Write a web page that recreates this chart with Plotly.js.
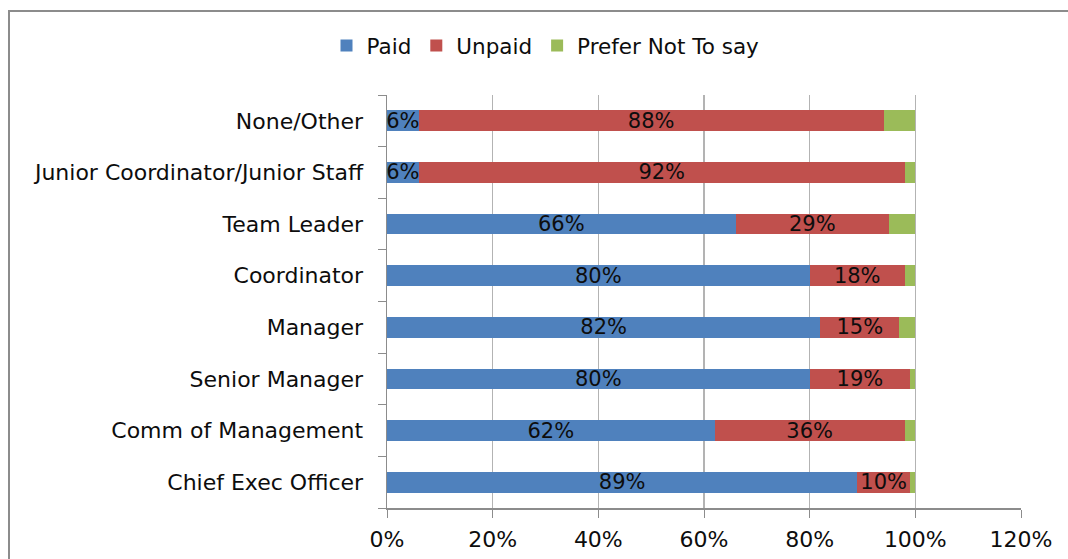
<!DOCTYPE html>
<html>
<head>
<meta charset="utf-8">
<script src="https://cdn.plot.ly/plotly-3.0.1.min.js"></script>
<style>
html,body{margin:0;padding:0;background:#fff;}
#wrap{position:relative;width:1068px;height:559px;overflow:hidden;}
#chart{width:1068px;height:559px;}
#frame{position:absolute;left:8px;top:10px;width:1100px;height:600px;border-left:2px solid #8c8c8c;border-top:2px solid #8c8c8c;pointer-events:none;}
</style>
</head>
<body>
<div id="wrap"><div id="chart"></div><div id="frame"></div></div>
<script>
const categories = ["Chief Exec Officer","Comm of Management","Senior Manager","Manager","Coordinator","Team Leader","Junior Coordinator/Junior Staff","None/Other"];
const paid = [89, 62, 80, 82, 80, 66, 6, 6];
const unpaid = [10, 36, 19, 15, 18, 29, 92, 88];
const preferNot = [1, 2, 1, 3, 2, 5, 2, 6];
const seriesNames = ["Paid", "Unpaid", "Prefer Not To say"];
const colors = ["#4F81BD", "#C0504D", "#9BBB59"];
const xTicks = [0, 20, 40, 60, 80, 100, 120];

const FONT = "'DejaVu Sans', sans-serif";
const TXT = "#0d0d0d";
const labelFont = {family: FONT, size: 21, color: TXT};

function barTrace(vals, name, color, showText) {
  return {
    type: "bar", orientation: "h", name: name,
    y: categories, x: vals,
    marker: {color: color},
    text: showText ? vals.map(v => v + "%") : undefined,
    textposition: showText ? "inside" : "none",
    insidetextanchor: "middle",
    constraintext: "none",
    textangle: 0,
    insidetextfont: labelFont,
    hoverinfo: "x+name"
  };
}

const data = [
  barTrace(paid, seriesNames[0], colors[0], true),
  barTrace(unpaid, seriesNames[1], colors[1], true),
  barTrace(preferNot, seriesNames[2], colors[2], false)
];

const layout = {
  width: 1068, height: 559,
  margin: {l: 387, r: 47, t: 95, b: 51, pad: 0},
  paper_bgcolor: "#fff", plot_bgcolor: "#fff",
  barmode: "stack",
  bargap: 0.6,
  showlegend: true,
  legend: {orientation: "h", x: 0.25, xanchor: "center", y: 1.12, yanchor: "middle",
           font: {family: FONT, size: 21.5, color: TXT}, traceorder: "normal",
           itemwidth: 30},
  font: {family: FONT, color: TXT},
  xaxis: {
    range: [0, 120], tickvals: xTicks, ticktext: xTicks.map(v => v + "%"),
    showgrid: true, gridcolor: "#b3b3b3", gridwidth: 1.5,
    zeroline: false, showline: true, linecolor: "#8c8c8c", linewidth: 1.5,
    ticks: "outside", ticklen: 8, tickcolor: "#8c8c8c",
    ticklabelstandoff: 3,
    tickfont: {family: FONT, size: 22, color: TXT}, fixedrange: true
  },
  yaxis: {
    type: "category", categoryorder: "array", categoryarray: categories,
    showline: true, linecolor: "#8c8c8c", linewidth: 1.5,
    ticks: "outside", ticklen: 8, tickcolor: "#8c8c8c", tickson: "boundaries",
    showgrid: false, zeroline: false,
    ticklabelstandoff: 18,
    tickfont: {family: FONT, size: 22, color: TXT}, fixedrange: true
  }
};

Plotly.newPlot("chart", data, layout, {displayModeBar: false, staticPlot: true});
</script>
</body>
</html>
